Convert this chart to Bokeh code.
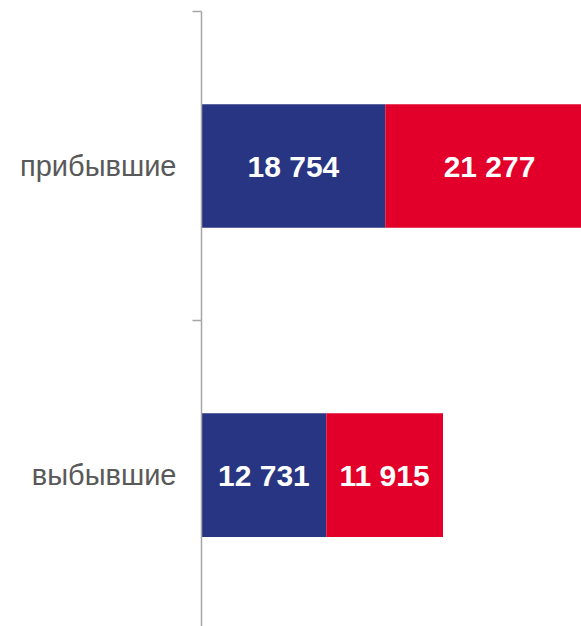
from bokeh.plotting import figure
from bokeh.models import ColumnDataSource, Range1d, FixedTicker
from bokeh.core.properties import value
from bokeh.embed import file_html
from bokeh.resources import INLINE

# ---- data ----
categories = ["прибывшие", "выбывшие"]
series_blue = [18754, 12731]
series_red = [21277, 11915]

BLUE = "#283582"
RED = "#E2002B"
AXIS = "#A6A6A6"
LABEL = "#595959"

n = len(categories)
ypos = [n - i - 0.5 for i in range(n)]

def fmt(v):
    return f"{v:,}".replace(",", " ")

src = ColumnDataSource(dict(
    y=ypos,
    b0=[0] * n,
    b1=series_blue,
    r0=series_blue,
    r1=[b + r for b, r in zip(series_blue, series_red)],
    bmid=[b / 2 for b in series_blue],
    rmid=[b + r / 2 for b, r in zip(series_blue, series_red)],
    btxt=[fmt(v) for v in series_blue],
    rtxt=[fmt(v) for v in series_red],
))

p = figure(width=581, height=626, output_backend="svg", toolbar_location=None,
           x_range=Range1d(0, 38780), y_range=Range1d(0.01, n),
           x_axis_location=None, min_border_left=201, min_border_right=0,
           min_border_top=11, min_border_bottom=0)
p.outline_line_color = None
p.xgrid.visible = False
p.ygrid.visible = False
p.background_fill_color = "white"
p.border_fill_color = "white"

p.hbar(y="y", left="b0", right="b1", height=0.4, color=BLUE, line_color=None, source=src)
p.hbar(y="y", left="r0", right="r1", height=0.4, color=RED, line_color=None, source=src)

for xcol, tcol in (("bmid", "btxt"), ("rmid", "rtxt")):
    p.text(x=xcol, y="y", text=tcol, source=src, text_color="white",
           text_font=value("Liberation Sans"), text_font_style="bold",
           text_font_size="30px", text_align="center", text_baseline="middle")

ax = p.yaxis[0]
ax.ticker = FixedTicker(ticks=ypos, minor_ticks=[float(i) for i in range(n + 1)])
ax.major_label_overrides = {y: c for y, c in zip(ypos, categories)}
ax.major_tick_line_color = None
ax.major_tick_out = 0
ax.major_tick_in = 0
ax.minor_tick_out = 9
ax.minor_tick_in = 0
ax.minor_tick_line_color = AXIS
ax.minor_tick_line_width = 1.5
ax.axis_line_color = AXIS
ax.axis_line_width = 1.5
ax.major_label_standoff = 16
ax.major_label_text_font = "Liberation Sans"
ax.major_label_text_font_size = "29px"
ax.major_label_text_color = LABEL

open("out.html", "w").write(file_html(p, INLINE))
